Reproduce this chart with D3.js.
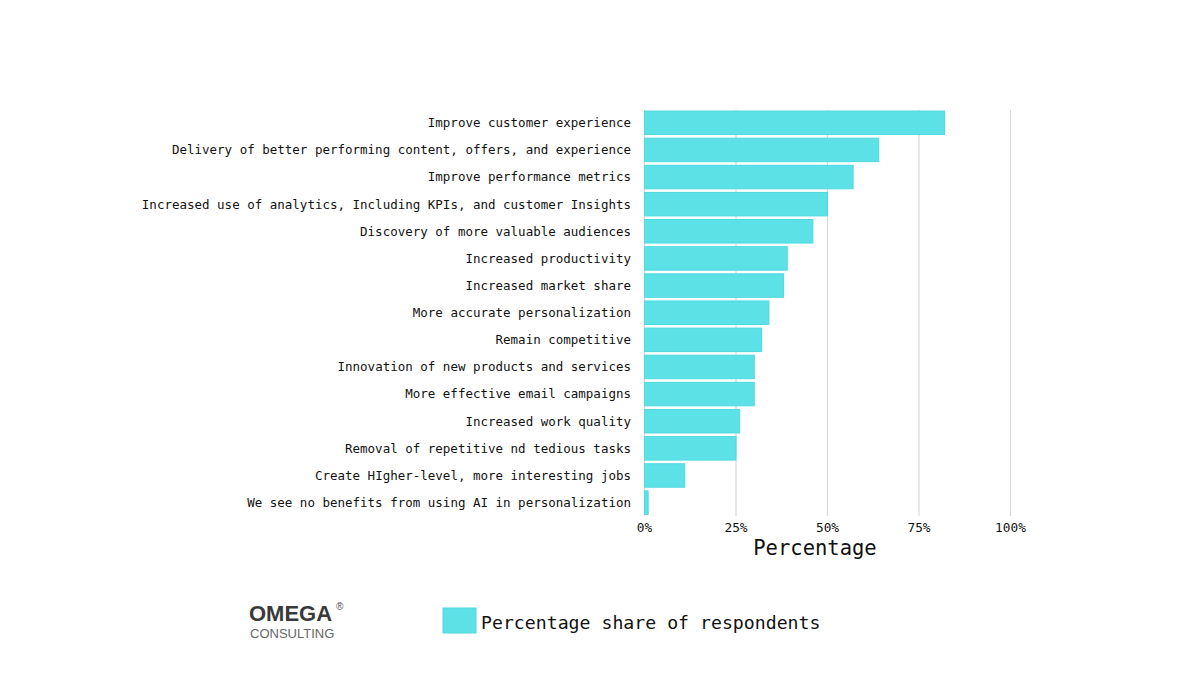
<!DOCTYPE html>
<html><head><meta charset="utf-8">
<script src="https://cdn.jsdelivr.net/npm/d3@7"></script>
<style>body{margin:0;background:#fff}svg{display:block}</style>
</head><body>
<svg id="c" width="1200" height="675"></svg>
<script>
const categories = [
 "Improve customer experience",
 "Delivery of better performing content, offers, and experience",
 "Improve performance metrics",
 "Increased use of analytics, Including KPIs, and customer Insights",
 "Discovery of more valuable audiences",
 "Increased productivity",
 "Increased market share",
 "More accurate personalization",
 "Remain competitive",
 "Innovation of new products and services",
 "More effective email campaigns",
 "Increased work quality",
 "Removal of repetitive nd tedious tasks",
 "Create HIgher-level, more interesting jobs",
 "We see no benefits from using AI in personalization"
];
const values = [82, 64, 57, 50, 46, 39, 38, 34, 32, 30, 30, 26, 25, 11, 1];
const tickValues = [0, 25, 50, 75, 100];
const tickLabels = ["0%", "25%", "50%", "75%", "100%"];

const mono = "'DejaVu Sans Mono', 'Liberation Mono', monospace";
const svg = d3.select("#c");
const x = d3.scaleLinear().domain([0, 100]).range([644.5, 1010.5]);
const y = d3.scaleBand().domain(categories).range([107.4, 518]).paddingInner(0.134).paddingOuter(0.134);

// gridlines
svg.append("g").selectAll("line").data(tickValues).join("line")
  .attr("x1", d => x(d)).attr("x2", d => x(d))
  .attr("y1", 110).attr("y2", 516)
  .attr("stroke", "#d9d9d9").attr("stroke-width", 1.2);

// bars
svg.append("g").selectAll("rect").data(values).join("rect")
  .attr("x", x(0)).attr("y", (d, i) => y(categories[i]))
  .attr("width", d => x(d) - x(0)).attr("height", y.bandwidth())
  .attr("fill", "#5ce1e6").attr("stroke", "#4fd9df").attr("stroke-width", 1);

// category labels
svg.append("g").selectAll("text").data(categories).join("text")
  .attr("x", 631).attr("y", d => y(d) + y.bandwidth() / 2)
  .attr("dy", "0.35em").attr("text-anchor", "end")
  .attr("font-family", mono).attr("font-size", 12.5).attr("fill", "#111")
  .text(d => d);

// x tick labels
svg.append("g").selectAll("text").data(tickValues).join("text")
  .attr("x", d => x(d)).attr("y", 532).attr("text-anchor", "middle")
  .attr("font-family", mono).attr("font-size", 12.8).attr("fill", "#111")
  .text((d, i) => tickLabels[i]);

// axis title
svg.append("text").attr("x", 815).attr("y", 555).attr("text-anchor", "middle")
  .attr("font-family", mono).attr("font-size", 20.5).attr("fill", "#111")
  .text("Percentage");

// legend
svg.append("rect").attr("x", 443).attr("y", 608).attr("width", 33).attr("height", 25)
  .attr("fill", "#5ce1e6").attr("stroke", "#4fd9df");
svg.append("text").attr("x", 481).attr("y", 629)
  .attr("font-family", mono).attr("font-size", 18.2).attr("fill", "#111")
  .text("Percentage share of respondents");

// logo
svg.append("text").attr("x", 249).attr("y", 620.5)
  .attr("font-family", "'Liberation Sans', Arial, sans-serif").attr("font-size", 22)
  .attr("font-weight", "bold").attr("fill", "#3a3a3a")
  .text("OMEGA");
svg.append("text").attr("x", 336).attr("y", 610)
  .attr("font-family", "'Liberation Sans', Arial, sans-serif").attr("font-size", 10).attr("fill", "#555").text("®");
svg.append("text").attr("x", 250).attr("y", 638)
  .attr("font-family", "'Liberation Sans', Arial, sans-serif").attr("font-size", 13)
  .attr("fill", "#666")
  .text("CONSULTING");
</script>
</body></html>
